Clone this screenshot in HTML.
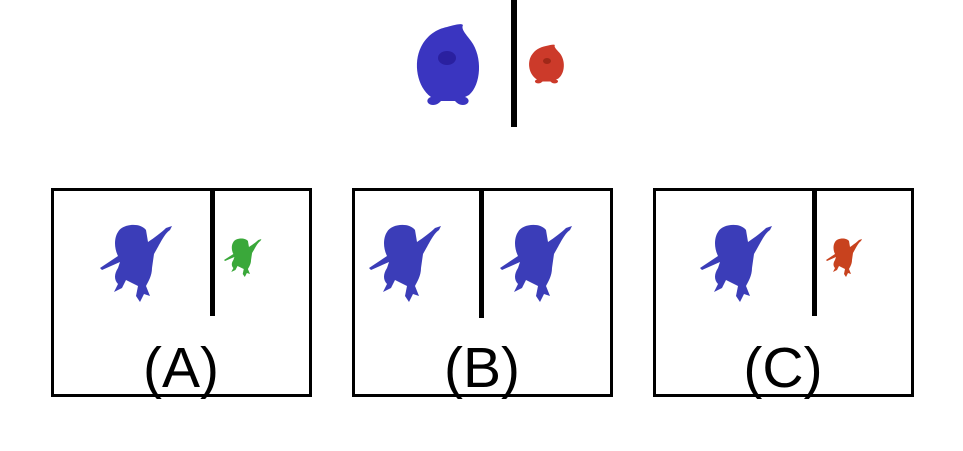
<!DOCTYPE html>
<html><head><meta charset="utf-8"><style>
html,body{margin:0;padding:0;background:#fff;}
body{width:963px;height:446px;overflow:hidden;position:relative;font-family:"Liberation Sans",sans-serif;}
</style></head><body>
<svg width="963" height="446" viewBox="0 0 963 446">
<defs>
<path id="dino" d="M18,8 C22,0 40,-2 46,6 L48,18 C54,14 62,8 66,4 L72,2 70,6 C64,10 60,20 54,30 L52,44 C52,52 48,58 46,62 L50,72 44,70 40,78 36,72 38,62 C34,60 30,58 26,56 L22,64 14,68 18,60 C14,56 14,50 18,44 L20,38 2,46 0,44 18,32 C14,24 14,14 18,8 Z"/>
<path id="blob" d="M32,2 C40,0 46,-2 48,0 C46,4 50,8 56,16 C68,32 66,60 54,70 L50,72 C56,74 54,80 48,80 C44,80 42,78 40,76 L26,76 C24,78 22,80 18,80 C12,80 10,74 16,72 C2,62 -2,38 6,22 C12,10 22,4 32,2 Z"/>
</defs>
<g>
<use href="#blob" transform="translate(415,25)" fill="#3a35c0"/>
<ellipse cx="447" cy="58" rx="9" ry="7" fill="#2a20a0"/>
<rect x="511" y="0" width="6" height="127" fill="#000"/>
<use href="#blob" transform="translate(528,45) scale(0.56,0.48)" fill="#cc3a2a"/>
<ellipse cx="547" cy="61" rx="4" ry="3" fill="#a02818"/>
</g>
<g>
<rect x="52.5" y="189.5" width="258" height="206" fill="#fff" stroke="#000" stroke-width="3"/>
<use href="#dino" transform="translate(100,224)" fill="#3b3db8"/>
<rect x="210" y="189" width="5" height="127" fill="#000"/>
<use href="#dino" transform="translate(224,238) scale(0.52,0.5)" fill="#3aa83a"/>
<text x="181" y="387" font-size="57" text-anchor="middle" font-family="Liberation Sans, sans-serif">(A)</text>
</g>
<g>
<rect x="353.5" y="189.5" width="258" height="206" fill="#fff" stroke="#000" stroke-width="3"/>
<use href="#dino" transform="translate(369,224)" fill="#3b3db8"/>
<rect x="479" y="189" width="5" height="129" fill="#000"/>
<use href="#dino" transform="translate(500,224)" fill="#3b3db8"/>
<text x="482" y="387" font-size="57" text-anchor="middle" font-family="Liberation Sans, sans-serif">(B)</text>
</g>
<g>
<rect x="654.5" y="189.5" width="258" height="206" fill="#fff" stroke="#000" stroke-width="3"/>
<use href="#dino" transform="translate(700,224)" fill="#3b3db8"/>
<rect x="812" y="189" width="5" height="127" fill="#000"/>
<use href="#dino" transform="translate(826,238) scale(0.5,0.5)" fill="#c8421e"/>
<text x="783" y="387" font-size="57" text-anchor="middle" font-family="Liberation Sans, sans-serif">(C)</text>
</g>
</svg>
</body></html>
